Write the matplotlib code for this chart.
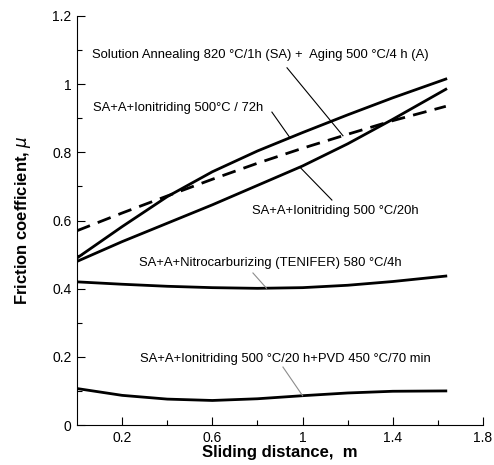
import numpy as np
import matplotlib
matplotlib.use('Agg')
import matplotlib.pyplot as plt

plt.rcParams['font.family'] = ['Liberation Sans', 'DejaVu Sans']

# sliding distance (m) where the curves were read
dist = [0.0, 0.2, 0.4, 0.6, 0.8, 1.0, 1.2, 1.4, 1.635]

# friction coefficient
sa_a    = [0.570, 0.622, 0.672, 0.721, 0.768, 0.812, 0.853, 0.893, 0.935]   # dashed
ion_72h = [0.490, 0.582, 0.670, 0.743, 0.804, 0.858, 0.910, 0.960, 1.015]
ion_20h = [0.480, 0.538, 0.592, 0.646, 0.703, 0.760, 0.825, 0.897, 0.985]
tenifer = [0.420, 0.413, 0.407, 0.403, 0.401, 0.403, 0.410, 0.421, 0.437]
ion_pvd = [0.107, 0.087, 0.076, 0.072, 0.077, 0.086, 0.094, 0.099, 0.100]

xticks = [0.2, 0.6, 1.0, 1.4, 1.8]
xticklabels = ['0.2', '0.6', '1', '1.4', '1.8']
yticks = [0, 0.2, 0.4, 0.6, 0.8, 1.0, 1.2]
yticklabels = ['0', '0.2', '0.4', '0.6', '0.8', '1', '1.2']

labels = {
    'sa_a':    'Solution Annealing 820 \u00b0C/1h (SA) +  Aging 500 \u00b0C/4 h (A)',
    'ion_72h': 'SA+A+Ionitriding 500\u00b0C / 72h',
    'ion_20h': 'SA+A+Ionitriding 500 \u00b0C/20h',
    'tenifer': 'SA+A+Nitrocarburizing (TENIFER) 580 \u00b0C/4h',
    'ion_pvd': 'SA+A+Ionitriding 500 \u00b0C/20 h+PVD 450 \u00b0C/70 min',
}

fig = plt.figure(figsize=(4.94, 4.65), dpi=100)
ax = fig.add_axes([0.1559, 0.086, 0.8219, 0.8796])

ax.plot(dist, sa_a, 'k--', lw=2.0, dashes=(5, 3))
ax.plot(dist, ion_72h, 'k-', lw=2.0)
ax.plot(dist, ion_20h, 'k-', lw=2.0)
ax.plot(dist, tenifer, 'k-', lw=2.0)
ax.plot(dist, ion_pvd, 'k-', lw=2.0)

# labels with leader lines (text pos, leader start, x where leader hits the curve)
notes = [
    ('sa_a',    sa_a,    (0.066, 1.086), (0.931, 1.048), 1.179, 'k'),
    ('ion_72h', ion_72h, (0.071, 0.930), (0.864, 0.918), 0.944, 'k'),
    ('ion_20h', ion_20h, (0.776, 0.628), (1.130, 0.660), 0.988, 'k'),
    ('tenifer', tenifer, (0.275, 0.475), (0.780, 0.446), 0.840, '0.55'),
    ('ion_pvd', ion_pvd, (0.279, 0.194), (0.913, 0.170), 1.000, '0.55'),
]
for key, ys, tpos, lstart, xend, col in notes:
    ax.text(tpos[0], tpos[1], labels[key], fontsize=9.4, ha='left', va='center')
    yend = np.interp(xend, dist, ys)
    ax.plot([lstart[0], xend], [lstart[1], yend], color=col, lw=0.8)

ax.set_xlim(0, 1.8)
ax.set_ylim(0, 1.2)
ax.set_xticks(xticks)
ax.set_xticklabels(xticklabels)
ax.set_xticks([0.4, 0.8, 1.2, 1.6], minor=True)
ax.set_yticks(yticks)
ax.set_yticklabels(yticklabels)
ax.set_yticks([0.1, 0.3, 0.5, 0.7, 0.9, 1.1], minor=True)
ax.tick_params(which='major', direction='in', length=6, width=0.8, labelsize=10, pad=4)
ax.tick_params(which='minor', direction='in', length=3.5, width=0.8)
for s in ['top', 'right']:
    ax.spines[s].set_visible(False)
for s in ['left', 'bottom']:
    ax.spines[s].set_linewidth(0.8)

ax.set_xlabel('Sliding distance,  m', fontsize=12, fontweight='bold', labelpad=0)
ax.set_ylabel(r'Friction coefficient, $\mu$', fontsize=12, fontweight='bold', labelpad=14)

fig.savefig('out.png', dpi=100)
